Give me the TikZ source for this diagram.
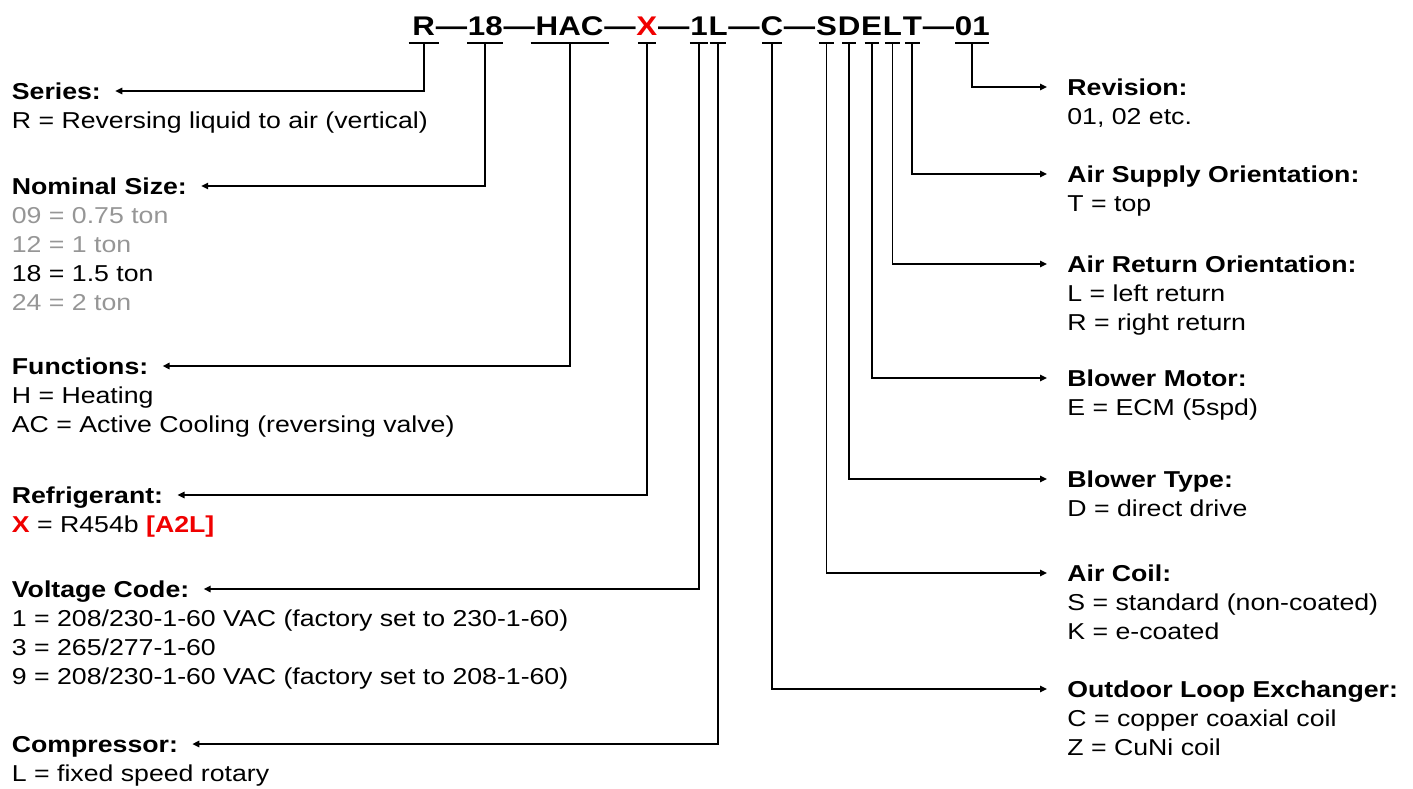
\documentclass[tikz,border=0pt]{standalone}
\usepackage{fontspec}
\setmainfont{Liberation Sans}[FakeStretch=1.16]
\usetikzlibrary{arrows.meta,positioning}
\definecolor{codered}{RGB}{240,0,0}
\definecolor{softgray}{RGB}{150,150,150}
\newcommand{\bodyfont}{\fontsize{11.5pt}{14.4pt}\selectfont}

\begin{document}
\begin{tikzpicture}[x=0.5pt,y=-0.5pt,
  code/.style={font=\fontsize{13.5pt}{17pt}\selectfont\bfseries,inner sep=0,text depth=3.8pt},
  bar/.style={line width=.9pt},
  head/.style={font=\bodyfont\bfseries,inner sep=0,text height=8.2pt,text depth=0pt,anchor=west},
  body/.style={font=\bodyfont,inner sep=0,align=left},
  lead/.style={-{Triangle[length=3.5pt,width=3.2pt]},line width=.9pt,shorten >=#1}]
  \useasboundingbox (0,0) rectangle (1413,788);

  % model code
  \node[code,anchor=base west] (cR) at (412,35) {R};
  \foreach \name/\txt/\prev in {d1/—/cR,c18/18/d1,d2/—/c18,cHAC/HAC/d2,d3/—/cHAC,
    cX/{\textcolor{codered}{X}}/d3,d4/—/cX,c1/1/d4,cL/L/c1,d5/—/cL,cC/C/d5,d6/—/cC,
    cS/S/d6,cD/D/cS,cE/E/cD,cLL/L/cE,cT/T/cLL,d7/—/cT,c01/01/d7}
    \node[code,base right=0pt of \prev] (\name) {\txt};
  \foreach \n/\w in {cR/7.5pt,c18/9pt,cHAC/19.5pt,cX/4.5pt,c1/4.5pt,cL/4.2pt,cC/5pt,
    cS/3.8pt,cD/3.5pt,cE/3.5pt,cLL/3.8pt,cT/3.8pt,c01/8.5pt}
    \draw[bar] ([xshift=-\w]\n.south) -- ([xshift=\w]\n.south);

  % headings
  \foreach \name/\x/\y/\txt in {series/11.5/91/Series:,nominal/11.5/186/Nominal Size:,
    functions/11.5/366/Functions:,refrig/11.5/495/Refrigerant:,
    voltage/11.5/589/Voltage Code:,compressor/11.5/744/Compressor:,
    revision/1067/87/Revision:,supply/1067/174/Air Supply Orientation:,
    return/1067/264/Air Return Orientation:,motor/1067/378/Blower Motor:,
    btype/1067/479/Blower Type:,coil/1067/573/Air Coil:,
    outdoor/1067/689/Outdoor Loop Exchanger:}
    \node[head] (\name) at (\x,\y) {\txt};

  % descriptions
  \node[body,below right=4.3pt and 0pt of series.south west] (seriesd)
    {\strut R = Reversing liquid to air (vertical)};
  \node[body,below right=4.3pt and 0pt of nominal.south west] (nominald)
    {\strut\textcolor{softgray}{09 = 0.75 ton}\\\textcolor{softgray}{12 = 1 ton}\\
     18 = 1.5 ton\\\textcolor{softgray}{24 = 2 ton}};
  \node[body,below right=4.3pt and 0pt of functions.south west] (functionsd)
    {\strut H = Heating\\AC = Active Cooling (reversing valve)};
  \node[body,below right=4.3pt and 0pt of refrig.south west] (refrigd)
    {\strut\textbf{\textcolor{codered}{X}} = R454b \textbf{\textcolor{codered}{[A2L]}}};
  \node[body,below right=4.3pt and 0pt of voltage.south west] (voltaged)
    {\strut 1 = 208/230-1-60 VAC (factory set to 230-1-60)\\3 = 265/277-1-60\\
     9 = 208/230-1-60 VAC (factory set to 208-1-60)};
  \node[body,below right=4.3pt and 0pt of compressor.south west] (compressord)
    {\strut L = fixed speed rotary};
  \node[body,below right=4.3pt and 0pt of revision.south west] (revisiond)
    {\strut 01, 02 etc.};
  \node[body,below right=4.3pt and 0pt of supply.south west] (supplyd)
    {\strut T = top};
  \node[body,below right=4.3pt and 0pt of return.south west] (returnd)
    {\strut L = left return\\R = right return};
  \node[body,below right=4.3pt and 0pt of motor.south west] (motord)
    {\strut E = ECM (5spd)};
  \node[body,below right=4.3pt and 0pt of btype.south west] (btyped)
    {\strut D = direct drive};
  \node[body,below right=4.3pt and 0pt of coil.south west] (coild)
    {\strut S = standard (non-coated)\\K = e-coated};
  \node[body,below right=4.3pt and 0pt of outdoor.south west] (outdoord)
    {\strut C = copper coaxial coil\\Z = CuNi coil};

  % leaders
  \foreach \a/\b in {cR/series,c18/nominal,cHAC/functions,cX/refrig,c1/voltage,cL/compressor}
    \draw[lead=7pt] (\a.south) |- (\b);
  \foreach \a/\b in {c01/revision,cT/supply,cLL/return,cE/motor,cD/btype,cS/coil,cC/outdoor}
    \draw[lead=10pt] (\a.south) |- (\b);
\end{tikzpicture}
\end{document}
